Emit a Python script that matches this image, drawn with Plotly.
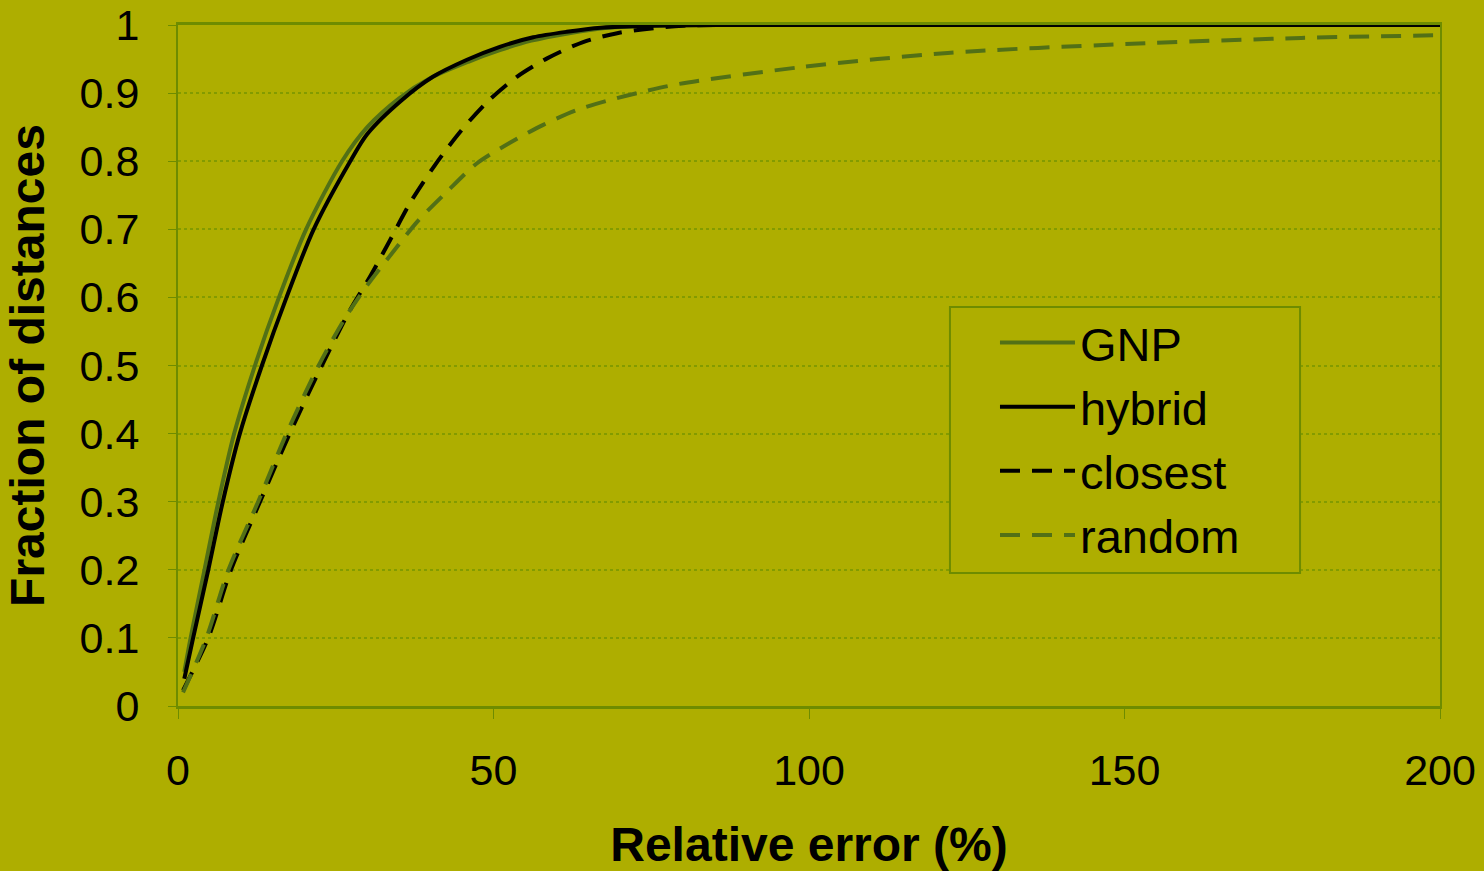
import plotly.graph_objects as go

# Data
gnp_x = [1, 2.0, 4.2, 6.4, 8.9, 12.2, 16, 20.3, 26, 30, 35, 40, 46, 51, 56, 62, 67, 75, 85, 100, 150, 200]
gnp_y = [0.05, 0.1, 0.2, 0.3, 0.4, 0.5, 0.6, 0.7, 0.8, 0.85, 0.892, 0.922, 0.946, 0.963, 0.977, 0.988, 0.995, 0.999, 1.0, 1.0, 1.0, 1.0]

hybrid_x = [1, 2.4, 4.8, 7.1, 9.8, 13.3, 17.2, 21.5, 27.3, 30, 35.5, 40.4, 45.8, 51, 56.3, 61.6, 67, 75, 85, 100, 150, 200]
hybrid_y = [0.04, 0.1, 0.2, 0.3, 0.4, 0.5, 0.6, 0.7, 0.8, 0.84, 0.89, 0.924, 0.949, 0.968, 0.982, 0.99, 0.996, 0.999, 1.0, 1.0, 1.0, 1.0]

closest_x = [0.8, 4.8, 8.4, 13.0, 17.7, 22.8, 27.3, 30.4, 33.6, 36.8, 40.7, 44.7, 49, 53.7, 58.5, 64.2, 69.6, 75, 80, 90, 150, 200]
closest_y = [0.023, 0.1, 0.2, 0.3, 0.4, 0.5, 0.582, 0.63, 0.684, 0.739, 0.794, 0.843, 0.887, 0.924, 0.951, 0.975, 0.988, 0.995, 0.999, 1.0, 1.0, 1.0]

random_x = [0.8, 4.5, 8.0, 12.7, 17.2, 22.3, 26.5, 30, 34.1, 38, 42.6, 47.4, 52.6, 57.8, 63.2, 68.5, 73.7, 79.1, 98.6, 122, 150, 178, 200]
random_y = [0.02, 0.1, 0.2, 0.3, 0.4, 0.5, 0.57, 0.618, 0.667, 0.712, 0.755, 0.797, 0.827, 0.853, 0.875, 0.89, 0.902, 0.913, 0.938, 0.959, 0.972, 0.981, 0.985]

x_ticks = [0, 50, 100, 150, 200]
y_ticks = [0, 0.1, 0.2, 0.3, 0.4, 0.5, 0.6, 0.7, 0.8, 0.9, 1]
y_ticktext = ["0", "0.1", "0.2", "0.3", "0.4", "0.5", "0.6", "0.7", "0.8", "0.9", "1"]

BG = "rgb(174,174,0)"
GREEN = "rgb(82,112,22)"
AXIS = "rgb(110,140,0)"
FONT = "Liberation Sans, Arial, sans-serif"

fig = go.Figure()
fig.add_trace(go.Scatter(x=gnp_x, y=gnp_y, name="GNP", mode="lines",
                         line=dict(color=GREEN, width=4, shape="spline", smoothing=0.8)))
fig.add_trace(go.Scatter(x=hybrid_x, y=hybrid_y, name="hybrid", mode="lines",
                         line=dict(color="black", width=4, shape="spline", smoothing=0.8)))
fig.add_trace(go.Scatter(x=closest_x, y=closest_y, name="closest", mode="lines",
                         line=dict(color="black", width=4, dash="20px,12px", shape="spline", smoothing=0.8)))
fig.add_trace(go.Scatter(x=random_x, y=random_y, name="random", mode="lines",
                         line=dict(color=GREEN, width=4, dash="20px,12px", shape="spline", smoothing=0.8)))

# legend frame (decoration, in paper coordinates)
fig.add_shape(type="rect", xref="paper", yref="paper",
              x0=0.6117, x1=0.8891, y0=0.1953, y1=0.5859,
              line=dict(color=AXIS, width=2), fillcolor=BG, layer="above")

fig.update_layout(
    width=1484, height=871,
    paper_bgcolor=BG, plot_bgcolor=BG,
    margin=dict(l=178, r=44, t=25, b=165, autoexpand=False),
    font=dict(family=FONT, size=43, color="black"),
    showlegend=True,
    legend=dict(
        x=0.6117, y=0.588, xanchor="left", yanchor="top",
        bgcolor="rgba(0,0,0,0)", borderwidth=0,
        font=dict(family=FONT, size=47, color="black"),
        itemwidth=75, tracegroupgap=0,
        title=dict(text="&nbsp;&nbsp;&nbsp;", side="left", font=dict(size=42)),
    ),
    xaxis=dict(
        range=[0, 200], tickvals=x_ticks, ticktext=[str(v) for v in x_ticks],
        showgrid=False, zeroline=False, automargin=False,
        showline=True, linecolor=AXIS, linewidth=3, mirror=True,
        ticks="outside", ticklen=10, tickcolor=AXIS, tickwidth=1,
        ticklabelstandoff=14,
        title=dict(text="<b>Relative error (%)</b>", font=dict(family=FONT, size=48), standoff=40),
    ),
    yaxis=dict(
        range=[0, 1], tickvals=y_ticks, ticktext=y_ticktext,
        showgrid=True, gridcolor="rgba(120,150,0,0.8)", gridwidth=2, griddash="dot",
        zeroline=False, automargin=False,
        showline=True, linecolor=AXIS, linewidth=2, mirror=True,
        ticks="outside", ticklen=8, tickcolor=AXIS, tickwidth=1,
        ticklabelstandoff=20,
        title=dict(text="<b>Fraction of distances</b>", font=dict(family=FONT, size=48), standoff=20),
    ),
)

fig.write_html("out.html", config={"displayModeBar": False},
               post_script="document.body.style.margin='0';document.body.style.overflow='hidden';")
